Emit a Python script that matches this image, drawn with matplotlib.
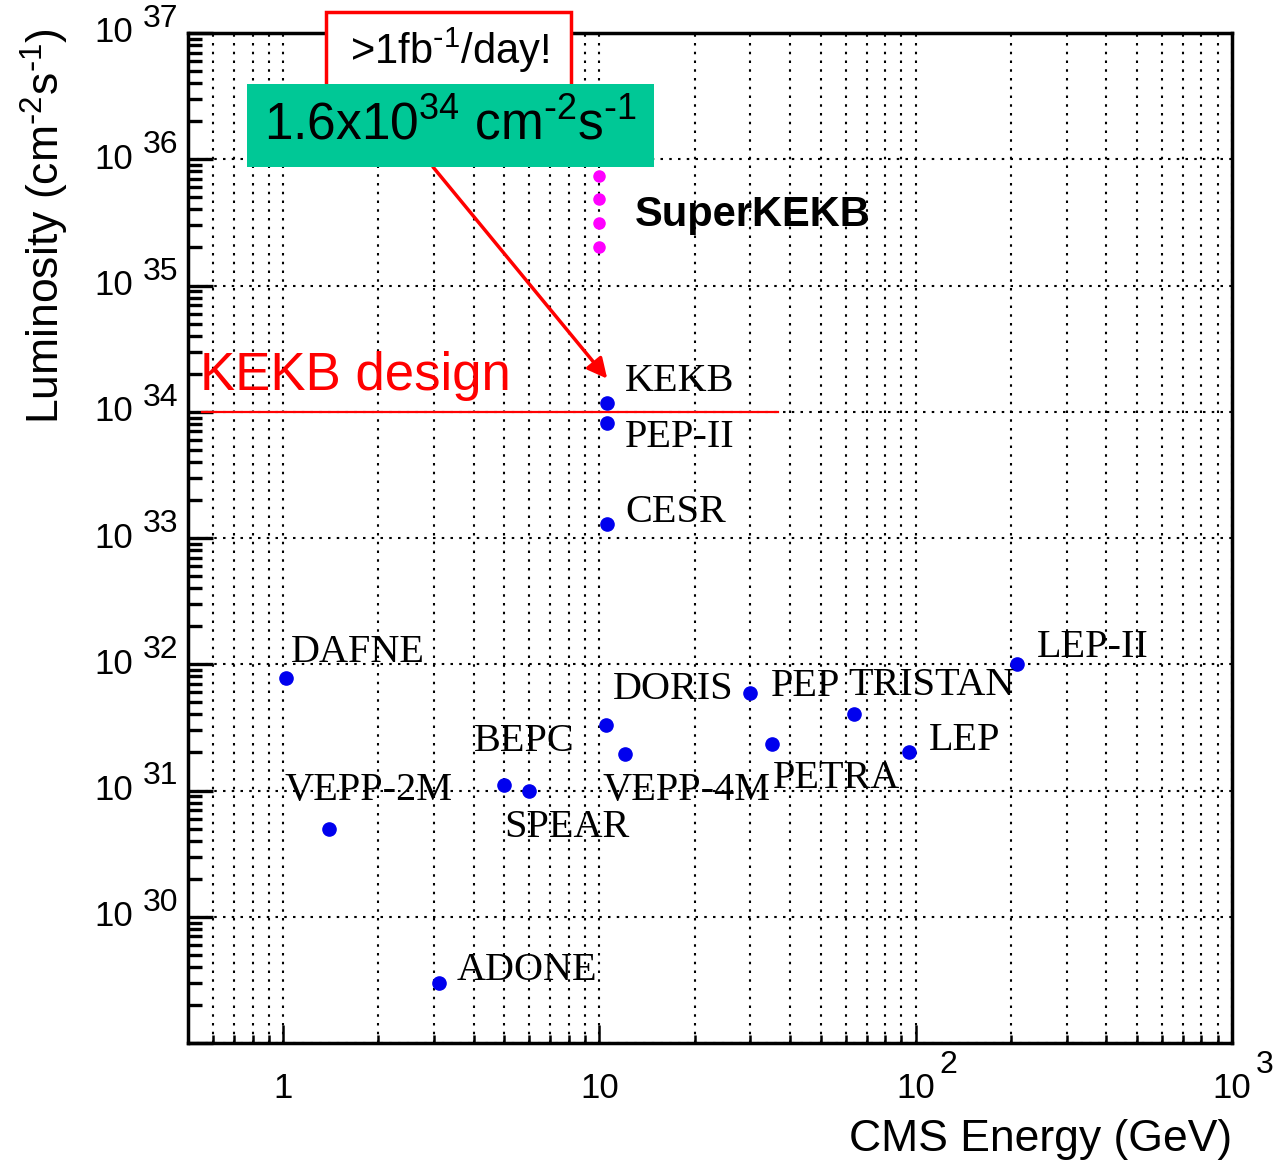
import numpy as np
import matplotlib
matplotlib.use("Agg")
import matplotlib.pyplot as plt
from matplotlib.patches import Rectangle
from matplotlib.transforms import offset_copy
from matplotlib.ticker import LogLocator, NullFormatter

# Collider data (CMS energy in GeV, luminosity in cm^-2 s^-1)
names = ["ADONE", "VEPP-2M", "DAFNE", "BEPC", "SPEAR", "DORIS", "VEPP-4M",
         "PEP", "PETRA", "TRISTAN", "LEP", "LEP-II", "KEKB", "PEP-II", "CESR"]
energy = [3.1, 1.4, 1.02, 5.0, 6.0, 10.5, 12.0,
          30.0, 35.0, 64.0, 95.0, 209.0, 10.58, 10.58, 10.58]
lumi = [3.0e29, 5.0e30, 7.8e31, 1.1e31, 1.0e31, 3.3e31, 1.95e31,
        5.9e31, 2.35e31, 4.0e31, 2.0e31, 1.0e32, 1.18e34, 8.2e33, 1.28e33]

# SuperKEKB target points
super_energy = [10.0, 10.0, 10.0, 10.0]
super_lumi = [2.0e35, 3.1e35, 4.8e35, 7.4e35]

kekb_design = 1.0e34
design_range = [0.555, 36.6]

y_exponents = [30, 31, 32, 33, 34, 35, 36, 37]
x_ticks = [1, 10, 100, 1000]
x_ticklabels = [("1", ""), ("10", ""), ("10", "2"), ("10", "3")]

# label offsets (pixels) relative to each point
label_offsets = [(18, 12), (-45, 38), (5, 25), (-30, 44), (-25, -37), (7, 36), (-22, -37),
                 (21, 7), (1, -35), (-6, 29), (20, 12), (20, 17), (18, 21), (18, -15), (18, 12)]

plt.rcParams["font.family"] = ["Liberation Sans", "DejaVu Sans"]

W, H = 1274, 1164
fig = plt.figure(figsize=(W / 100, H / 100), dpi=100)
ax = fig.add_axes([188 / W, 1 - 1043 / H, (1232 - 188) / W, (1043 - 33) / H])

ax.set_xscale("log")
ax.set_yscale("log")
ax.set_xlim(0.5, 1000)
ax.set_ylim(1e29, 1e37)

# grid: vertical at all x ticks, horizontal at decades only
ax.xaxis.set_major_locator(LogLocator(base=10, numticks=10))
ax.xaxis.set_minor_locator(LogLocator(base=10, subs=np.arange(2, 10), numticks=20))
ax.yaxis.set_major_locator(LogLocator(base=10, numticks=20))
ax.yaxis.set_minor_locator(LogLocator(base=10, subs=np.arange(2, 10), numticks=40))
ax.grid(True, which="major", axis="both", color="black", linestyle=(0, (1.2, 3)), linewidth=1.5)
ax.grid(True, which="minor", axis="x", color="black", linestyle=(0, (1.2, 3)), linewidth=1.5)

ax.tick_params(axis="both", which="both", direction="in", top=False, right=False,
               labelleft=False, labelbottom=False)
ax.tick_params(axis="y", which="major", length=18, width=2.4)
ax.tick_params(axis="y", which="minor", length=10, width=2.4)
ax.tick_params(axis="x", which="major", length=13, width=1.8)
ax.tick_params(axis="x", which="minor", length=6, width=1.8)
ax.xaxis.set_minor_formatter(NullFormatter())
ax.yaxis.set_minor_formatter(NullFormatter())
for sp in ax.spines.values():
    sp.set_linewidth(2.5)

# tick labels in "10 ^n" style
ytr = ax.get_yaxis_transform()
for e in y_exponents:
    ax.annotate("10", xy=(0, 10.0 ** e), xycoords=ytr, xytext=(-55, 0),
                textcoords="offset pixels", ha="right", va="center", fontsize=25,
                annotation_clip=False)
    ax.annotate(str(e), xy=(0, 10.0 ** e), xycoords=ytr, xytext=(-45, 14),
                textcoords="offset pixels", ha="left", va="center", fontsize=23,
                annotation_clip=False)
xtr = ax.get_xaxis_transform()
for v, (base, ex) in zip(x_ticks, x_ticklabels):
    ax.annotate(base, xy=(v, 0), xycoords=xtr, xytext=(0, -45),
                textcoords="offset pixels", ha="center", va="center", fontsize=25,
                annotation_clip=False)
    if ex:
        ax.annotate(ex, xy=(v, 0), xycoords=xtr, xytext=(24, -22),
                    textcoords="offset pixels", ha="left", va="center", fontsize=23,
                    annotation_clip=False)

# data points
ax.plot(energy, lumi, "o", color="#0000ee", markersize=9.5, zorder=5)
for n, e, l, (dx, dy) in zip(names, energy, lumi, label_offsets):
    ax.annotate(n, xy=(e, l), xytext=(dx, dy), textcoords="offset pixels",
                ha="left", va="center", fontsize=29, family=["Liberation Serif"],
                zorder=6)

ax.plot(super_energy, super_lumi, "o", color="#ff00ff", markersize=8, zorder=5)
fig.text(635 / W, 1 - 215 / H, "SuperKEKB", fontsize=30, fontweight="bold",
         ha="left", va="center")

# KEKB design line
ax.plot(design_range, [kekb_design, kekb_design], color="#ff0000", linewidth=1.6, zorder=4)
fig.text(200 / W, 1 - 376 / H, "KEKB design", color="#ff0000", fontsize=38,
         ha="left", va="center")

# boxes
red_box = Rectangle((326 / W, 1 - 88 / H), (571 - 326) / W, (88 - 12) / H,
                    transform=fig.transFigure, facecolor="white", edgecolor="#ff0000",
                    linewidth=2.5, zorder=10)
fig.add_artist(red_box)
fig.text(449 / W, 1 - 50 / H, r">1fb$^{\mathregular{\text{-}1}}$/day!", fontsize=30,
         ha="center", va="center", zorder=11)

green_box = Rectangle((247 / W, 1 - 167 / H), (654 - 247) / W, (167 - 84) / H,
                      transform=fig.transFigure, facecolor="#00c896", edgecolor="none",
                      zorder=12)
fig.add_artist(green_box)
fig.text(451 / W, 1 - 126 / H,
         r"1.6x10$^{\mathregular{34}}$ cm$^{\mathregular{\text{-}2}}$s$^{\mathregular{\text{-}1}}$",
         fontsize=37, ha="center", va="center", zorder=13)

# arrow to KEKB point
tr_up = offset_copy(ax.transData, fig=fig, x=0, y=24, units="dots")
ax.annotate("", xy=(energy[12], lumi[12]), xycoords=tr_up,
            xytext=(433, H - 167), textcoords="figure pixels",
            arrowprops=dict(arrowstyle="-|>", color="#ff0000", lw=2.5,
                            mutation_scale=30, shrinkA=0, shrinkB=0),
            annotation_clip=False, zorder=14)

# axis titles
fig.text(1232 / W, 1 - 1139 / H, "CMS Energy (GeV)", fontsize=32, ha="right", va="center")
fig.text(45 / W, 1 - 28 / H,
         r"Luminosity (cm$^{\mathregular{\text{-}2}}$s$^{\mathregular{\text{-}1}}$)",
         fontsize=32, rotation=90, ha="center", va="top")

fig.savefig("out.png", dpi=100)
